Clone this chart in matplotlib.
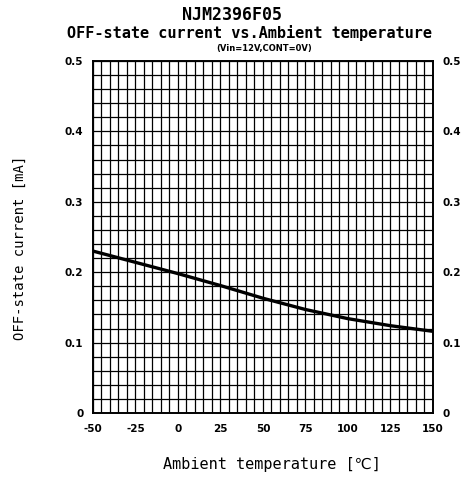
import numpy as np
import matplotlib.pyplot as plt

# curve
temp = [-50, -25, 0, 25, 50, 75, 100, 125, 150]
current = [0.230, 0.214, 0.198, 0.181, 0.163, 0.147, 0.134, 0.124, 0.116]

x_ticks = [-50, -25, 0, 25, 50, 75, 100, 125, 150]
y_ticks = [0, 0.1, 0.2, 0.3, 0.4, 0.5]
y_labels = ['0', '0.1', '0.2', '0.3', '0.4', '0.5']

mono = ['DejaVu Sans Mono', 'DejaVu Sans']

fig = plt.figure(figsize=(4.64, 4.79), dpi=100)
ax = fig.add_axes([93/464, 1 - 413/479, 340/464, 352/479])

# grid: every 5 degC and every 0.02 mA
for xv in np.arange(-50, 151, 5):
    ax.axvline(xv, color='k', lw=0.9, zorder=1)
for yv in np.arange(0, 0.501, 0.02):
    ax.axhline(yv, color='k', lw=0.9, zorder=1)

ax.plot(temp, current, color='k', lw=2.4, zorder=3)

ax.set_xlim(-50, 150)
ax.set_ylim(0, 0.5)
ax.set_xticks(x_ticks)
ax.set_xticklabels([str(t) for t in x_ticks])
ax.set_yticks(y_ticks)
ax.set_yticklabels(y_labels)
ax.tick_params(length=0, labelsize=7.5, labelright=True)
ax.tick_params(axis='x', pad=8)
ax.tick_params(axis='y', pad=7)
for lab in ax.get_xticklabels() + ax.get_yticklabels():
    lab.set_fontweight('bold')
for lab in ax.yaxis.get_ticklabels(which='both'):
    lab.set_fontweight('bold')
for sp in ax.spines.values():
    sp.set_linewidth(1.4)

fig.text(0.5, 1 - 15/479, 'NJM2396F05', ha='center', va='center',
         fontsize=12, fontweight='bold', family=mono)
fig.text(0.537, 1 - 33/479, 'OFF-state current vs.Ambient temperature',
         ha='center', va='center', fontsize=11, fontweight='bold', family=mono)
fig.text(0.57, 1 - 48/479, '(Vin=12V,CONT=0V)', ha='center', va='center',
         fontsize=6, fontweight='bold', family='DejaVu Sans Condensed')

fig.text(20/464, 1 - 248/479, 'OFF-state current [mA]', rotation=90,
         ha='center', va='center', fontsize=10, family=mono)
fig.text(272/464, 1 - 464/479, 'Ambient temperature [\u2103]',
         ha='center', va='center', fontsize=11, family=mono)

fig.savefig('out.png', dpi=100)
